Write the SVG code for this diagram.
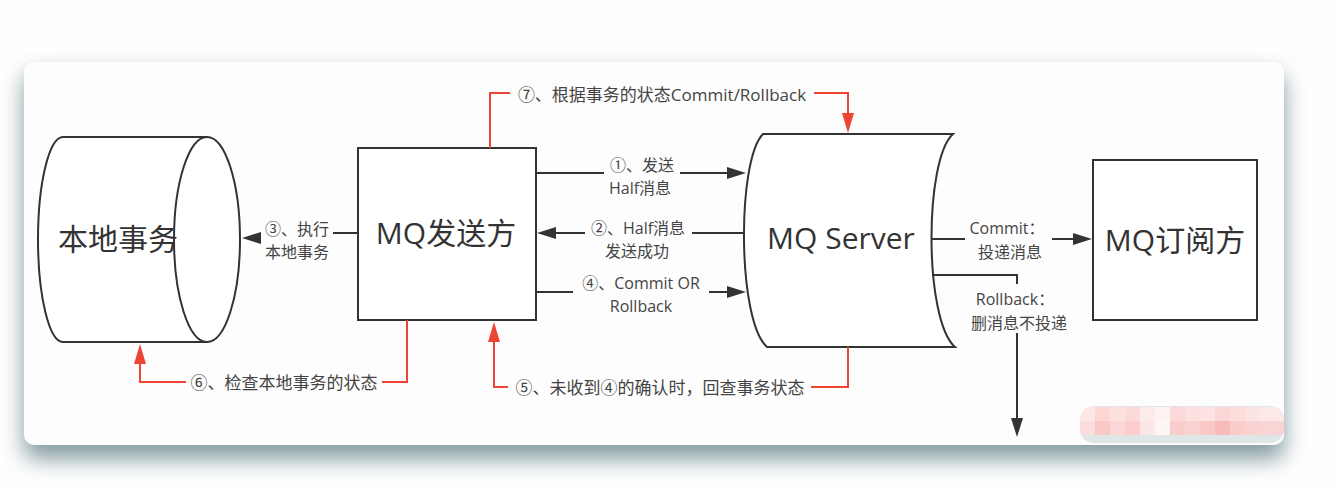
<svg xmlns="http://www.w3.org/2000/svg" width="1333" height="491" viewBox="0 0 1333 491">
<defs>
<filter id="sh" x="-10%" y="-20%" width="120%" height="150%">
<feGaussianBlur stdDeviation="11"/>
</filter>
<clipPath id="wm"><rect x="1080" y="406" width="204" height="37" rx="14"/></clipPath>
<style>
.ln{fill:none;stroke:#333;stroke-width:2}
.rd{fill:none;stroke:#ee4433;stroke-width:2}
.ah{fill:#333}
.ar{fill:#ee4433}
.shape{fill:#fff;stroke:#333;stroke-width:2}
.big{font-family:"Open Sans","Noto Sans CJK SC",sans-serif;font-size:30px;fill:#333;text-anchor:middle}
.lb{font-family:"Open Sans","Noto Sans CJK SC",sans-serif;font-size:17px;fill:#444;text-anchor:middle}
.lb2{font-family:"Open Sans","Noto Sans CJK SC",sans-serif;font-size:16px;fill:#444;text-anchor:middle}
</style>
</defs>
<rect x="0" y="0" width="1333" height="491" fill="#fefefe"/>
<rect x="24" y="74" width="1260" height="385" rx="10" fill="#6f8a90" opacity="0.85" filter="url(#sh)"/>
<rect x="24" y="62" width="1260" height="383" rx="10" fill="#fdfdfd"/>

<g id="local-tx">
<path class="shape" d="M63,137 L207,137 L207,342 L63,342 A25,102.5 0 0 1 63,137 Z"/>
<ellipse class="shape" cx="207" cy="239.5" rx="33" ry="102.5"/>
<text class="big" x="118" y="250">本地事务</text>
</g>

<g id="mq-sender">
<rect class="shape" x="358" y="148" width="178" height="172"/>
<text class="big" x="446" y="244">MQ发送方</text>
</g>

<g id="mq-server">
<path class="shape" d="M763,134 L953,134 C924,160 924,320 955,347 L767,347 C737,320 737,160 763,134 Z"/>
<text class="big" x="841" y="249">MQ Server</text>
</g>

<g id="mq-subscriber">
<rect class="shape" x="1093" y="160" width="164" height="160"/>
<text class="big" x="1175" y="251">MQ订阅方</text>
</g>

<g id="connectors">
<!-- 1 send half -->
<path class="ln" d="M536,173 H604 M680,173 H728"/>
<polygon class="ah" points="746,173 727,167 727,179"/>
<text class="lb2" x="642" y="171">①、发送</text>
<text class="lb2" x="640" y="194">Half消息</text>
<!-- 2 half success -->
<path class="ln" d="M743,233 H692 M585,233 H555"/>
<polygon class="ah" points="537,233 556,227 556,239"/>
<text class="lb2" x="638" y="234">②、Half消息</text>
<text class="lb2" x="637" y="257">发送成功</text>
<!-- 4 commit or rollback -->
<path class="ln" d="M536,292 H573 M709,292 H728"/>
<polygon class="ah" points="746,292 727,286 727,298"/>
<text class="lb2" x="641" y="289">④、Commit OR</text>
<text class="lb2" x="641" y="312">Rollback</text>
<!-- 3 execute local tx -->
<path class="ln" d="M358,233 H333"/>
<polygon class="ah" points="242,238 261,232 261,244"/>
<text class="lb2" x="297" y="235">③、执行</text>
<text class="lb2" x="297" y="258">本地事务</text>
<!-- commit deliver -->
<path class="ln" d="M931,239 H965 M1052,239 H1075"/>
<polygon class="ah" points="1092,239 1073,233 1073,245"/>
<text class="lb2" x="1007" y="234">Commit：</text>
<text class="lb2" x="1010" y="258">投递消息</text>
<!-- rollback -->
<path class="ln" d="M932,275 H1017 V284 M1017,333 V418"/>
<polygon class="ah" points="1017,437 1011,418 1023,418"/>
<text class="lb2" x="1015" y="305">Rollback：</text>
<text class="lb2" x="1019" y="329">删消息不投递</text>
<!-- 7 commit/rollback by state -->
<path class="rd" d="M490,148 V93 H510 M814,93 H848 V114"/>
<polygon class="ar" points="848,133 842,113 854,113"/>
<text class="lb" x="662" y="101">⑦、根据事务的状态Commit/Rollback</text>
<!-- 6 check local tx -->
<path class="rd" d="M407,320 V382 H382 M186,382 H140 V362"/>
<polygon class="ar" points="140,344 134,364 146,364"/>
<text class="lb" x="284" y="389">⑥、检查本地事务的状态</text>
<!-- 5 check back -->
<path class="rd" d="M848,347 V387 H811 M508,387 H494 V340"/>
<polygon class="ar" points="494,322 488,342 500,342"/>
<text class="lb" x="660" y="394">⑤、未收到④的确认时，回查事务状态</text>
</g>

<g clip-path="url(#wm)">
<rect x="1080" y="406" width="204" height="37" fill="#dfe6e8"/>
<rect x="1080" y="407" width="15" height="14" fill="#fde6e6"/>
<rect x="1095" y="407" width="15" height="14" fill="#fdd5d5"/>
<rect x="1110" y="407" width="15" height="14" fill="#fde0e0"/>
<rect x="1125" y="407" width="15" height="14" fill="#fcdada"/>
<rect x="1140" y="407" width="15" height="14" fill="#fdeaea"/>
<rect x="1155" y="407" width="15" height="14" fill="#fef2f2"/>
<rect x="1170" y="407" width="15" height="14" fill="#fdd8d8"/>
<rect x="1185" y="407" width="15" height="14" fill="#fde0e0"/>
<rect x="1200" y="407" width="15" height="14" fill="#fde4e4"/>
<rect x="1215" y="407" width="15" height="14" fill="#fcd6d6"/>
<rect x="1230" y="407" width="15" height="14" fill="#fddcdc"/>
<rect x="1245" y="407" width="15" height="14" fill="#fde4e4"/>
<rect x="1260" y="407" width="24" height="14" fill="#fde8e8"/>
<rect x="1080" y="421" width="15" height="14" fill="#fcdcdc"/>
<rect x="1095" y="421" width="15" height="14" fill="#fbc8c8"/>
<rect x="1110" y="421" width="15" height="14" fill="#fcd6d6"/>
<rect x="1125" y="421" width="15" height="14" fill="#fbcdcd"/>
<rect x="1140" y="421" width="15" height="14" fill="#fde6e6"/>
<rect x="1155" y="421" width="15" height="14" fill="#fef6f6"/>
<rect x="1170" y="421" width="15" height="14" fill="#fbcccc"/>
<rect x="1185" y="421" width="15" height="14" fill="#fbd0d0"/>
<rect x="1200" y="421" width="15" height="14" fill="#fbc8c8"/>
<rect x="1215" y="421" width="15" height="14" fill="#f9baba"/>
<rect x="1230" y="421" width="15" height="14" fill="#fbcccc"/>
<rect x="1245" y="421" width="15" height="14" fill="#fad2d2"/>
<rect x="1260" y="421" width="24" height="14" fill="#f8d4d4"/>
</g>
</svg>
